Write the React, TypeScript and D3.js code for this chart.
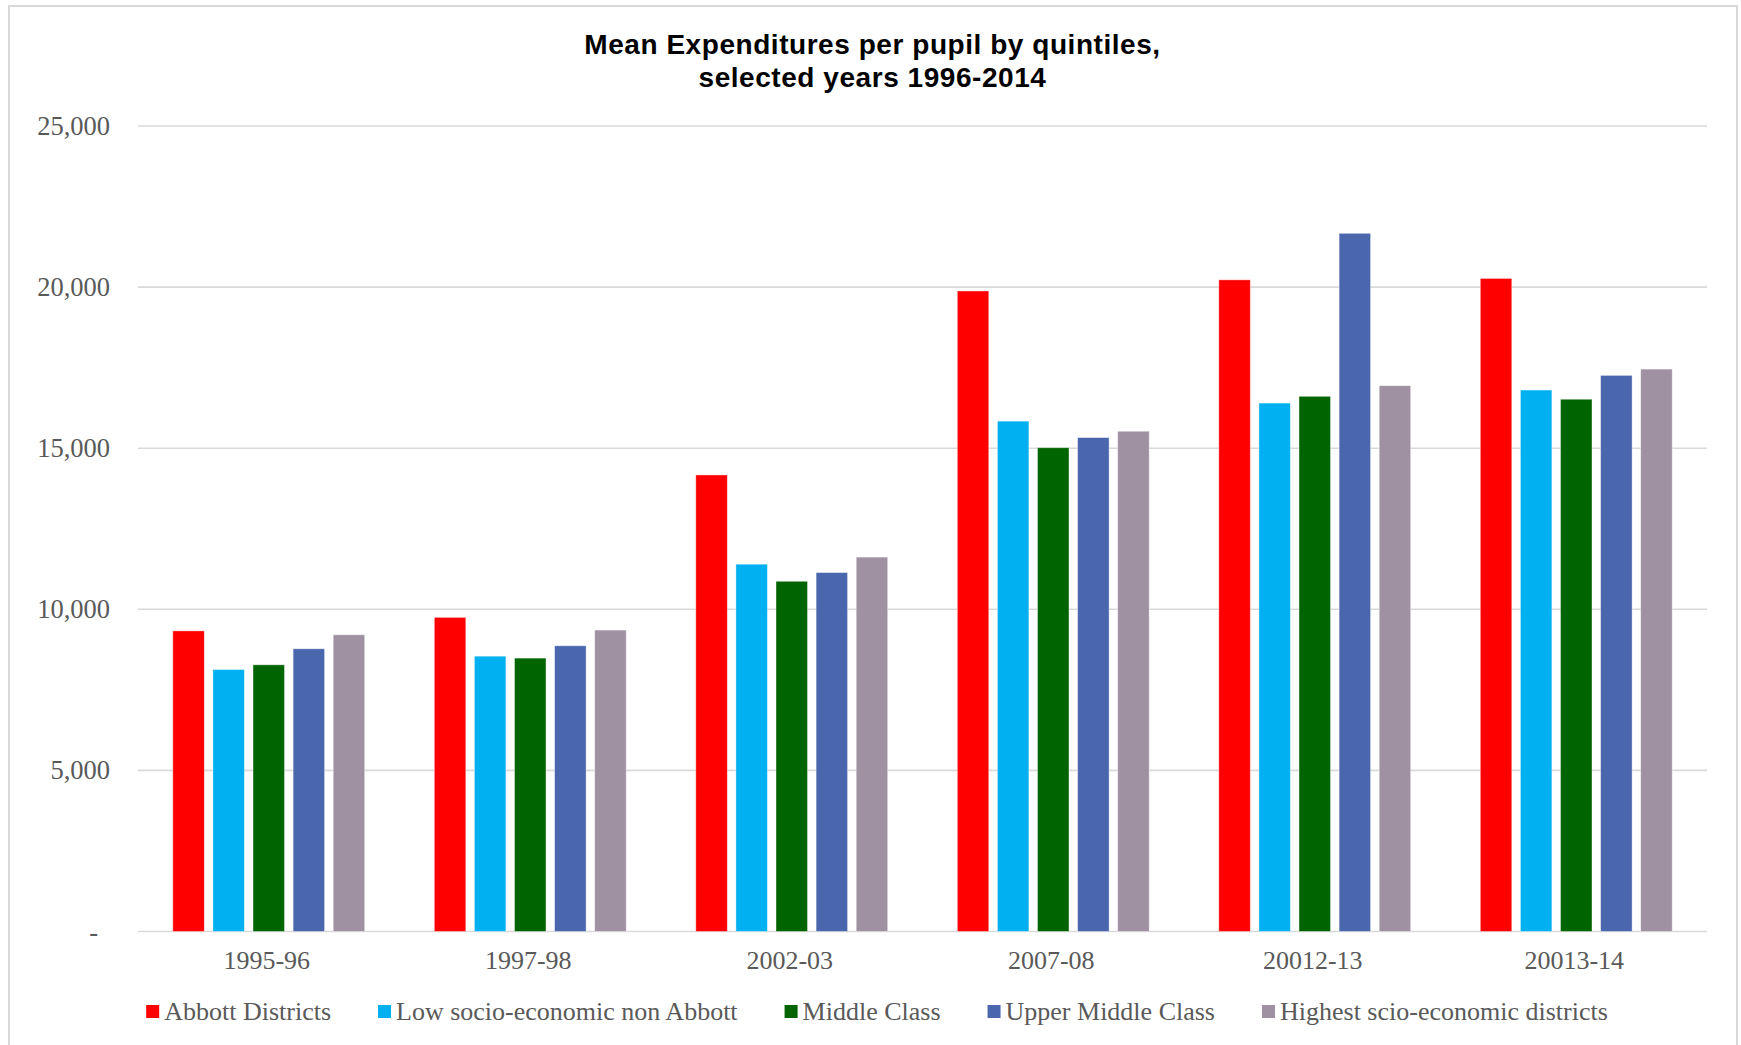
import React, { useEffect, useRef } from "react";
import * as d3 from "d3";

const years = ["1995-96", "1997-98", "2002-03", "2007-08", "20012-13", "20013-14"];
const seriesNames = [
  "Abbott Districts",
  "Low socio-economic non Abbott",
  "Middle Class",
  "Upper Middle Class",
  "Highest scio-economic districts",
];
const abbott = [9330, 9750, 14170, 19880, 20225, 20270];
const lowSes = [8130, 8545, 11400, 15840, 16400, 16805];
const middle = [8277, 8485, 10870, 15015, 16610, 16520];
const upperMiddle = [8775, 8868, 11140, 15330, 21670, 17260];
const highest = [9210, 9355, 11620, 15527, 16940, 17455];
const seriesColors = ["#FF0000", "#00B0F0", "#006400", "#4A67AD", "#9F91A2"];
const yTicks = [0, 5000, 10000, 15000, 20000, 25000];
const titleLines = ["Mean Expenditures per pupil by quintiles,", "selected years 1996-2014"];

const W = 1741;
const H = 1045;
const M = { left: 138, right: 1707, top: 126, bottom: 931.5 };
const SERIF = "'Liberation Serif', 'Times New Roman', serif";

export default function App() {
  const ref = useRef<SVGSVGElement | null>(null);

  useEffect(() => {
    const svg = d3.select(ref.current);
    svg.selectAll("*").remove();

    const values = [abbott, lowSes, middle, upperMiddle, highest];

    // chart frame
    svg
      .append("rect")
      .attr("x", 9)
      .attr("y", 6)
      .attr("width", 1728)
      .attr("height", 1100)
      .attr("fill", "#ffffff")
      .attr("stroke", "#d9d9d9")
      .attr("stroke-width", 2);

    const x = d3.scaleBand<string>().domain(years).range([M.left, M.right]).padding(0);
    const y = d3.scaleLinear().domain([0, 25000]).range([M.bottom, M.top]);

    const barW = 31.5;
    const step = 40.1;

    // gridlines
    svg
      .append("g")
      .selectAll("line")
      .data(yTicks)
      .join("line")
      .attr("x1", M.left)
      .attr("x2", M.right)
      .attr("y1", (d) => y(d))
      .attr("y2", (d) => y(d))
      .attr("stroke", "#d9d9d9")
      .attr("stroke-width", 1.6);

    // y tick labels
    const fmt = d3.format(",");
    svg
      .append("g")
      .selectAll("text")
      .data(yTicks)
      .join("text")
      .attr("x", (d) => (d === 0 ? 98 : 110))
      .attr("y", (d) => y(d) + 9)
      .attr("text-anchor", "end")
      .attr("font-family", SERIF)
      .attr("font-size", 26.5)
      .attr("fill", "#595959")
      .text((d) => (d === 0 ? "-" : fmt(d)));

    // bars
    values.forEach((vals, si) => {
      svg
        .append("g")
        .selectAll("rect")
        .data(vals)
        .join("rect")
        .attr("x", (_, i) => x(years[i])! + x.bandwidth() / 2 + (si - 2) * step - barW / 2)
        .attr("y", (d) => y(d))
        .attr("width", barW)
        .attr("height", (d) => y(0) - y(d))
        .attr("fill", seriesColors[si])
        .attr("stroke", "#ffffff")
        .attr("stroke-opacity", 0.5)
        .attr("stroke-width", 0.8);
    });

    // x labels
    svg
      .append("g")
      .selectAll("text")
      .data(years)
      .join("text")
      .attr("x", (d) => x(d)! + x.bandwidth() / 2 - 2)
      .attr("y", 969)
      .attr("text-anchor", "middle")
      .attr("font-family", SERIF)
      .attr("font-size", 26)
      .attr("fill", "#595959")
      .text((d) => d);

    // title
    svg
      .append("g")
      .selectAll("text")
      .data(titleLines)
      .join("text")
      .attr("x", 872.5)
      .attr("y", (_, i) => 54 + i * 33)
      .attr("text-anchor", "middle")
      .attr("font-family", "'Liberation Sans', Arial, sans-serif")
      .attr("font-weight", "bold")
      .attr("font-size", 28)
      .attr("letter-spacing", 0.55)
      .attr("fill", "#000000")
      .text((d) => d);

    // legend, centered under the chart
    const legend = svg.append("g");
    const items = seriesNames.map((name, i) => {
      const g = legend.append("g");
      g.append("rect")
        .attr("x", 0)
        .attr("y", 1005)
        .attr("width", 13)
        .attr("height", 13)
        .attr("fill", seriesColors[i]);
      const t = g
        .append("text")
        .attr("x", 18)
        .attr("y", 1020)
        .attr("font-family", SERIF)
        .attr("font-size", 26)
        .attr("fill", "#595959")
        .text(name);
      const w = (t.node() as SVGTextElement).getComputedTextLength();
      return { g, w: 18 + w };
    });
    const gap = 47;
    const total = d3.sum(items, (d) => d.w) + gap * (items.length - 1);
    let cx = 877 - total / 2;
    items.forEach((it) => {
      it.g.attr("transform", `translate(${cx},0)`);
      cx += it.w + gap;
    });
  }, []);

  return (
    <svg
      ref={ref}
      width={W}
      height={H}
      style={{ position: "absolute", left: 0, top: 0, background: "#ffffff" }}
    />
  );
}
